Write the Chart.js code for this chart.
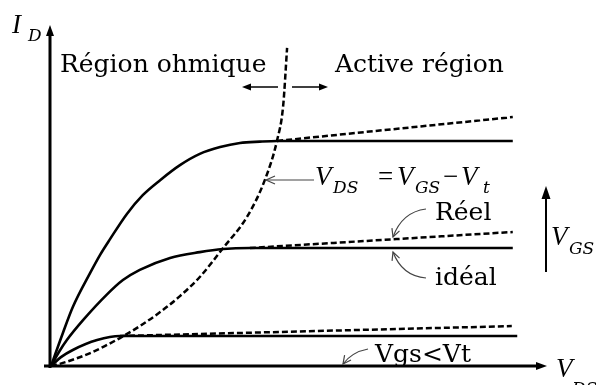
<!DOCTYPE html>
<html>
<head>
<meta charset="utf-8">
<script src="https://cdn.jsdelivr.net/npm/chart.js@4.4.0/dist/chart.umd.min.js"></script>
<style>
  html, body { margin: 0; padding: 0; background: #fff; }
  #wrap { position: relative; width: 596px; height: 385px; }
</style>
</head>
<body>
<div id="wrap"><canvas id="chart"></canvas></div>
<script>
// MOSFET output characteristics — I_D vs V_DS (schematic)
// Chart.js 4.x, curves drawn as scatter lines

// --- Data (arbitrary units, V_DS 0..10, I_D 0..10) ---
const curveHigh = [[0, 0], [0.24, 0.97], [0.44, 1.73], [0.79, 2.73], [0.99, 3.26], [1.19, 3.72],
    [1.53, 4.46], [1.85, 5.01], [2.20, 5.45], [2.60, 5.89], [3.00, 6.22], [3.41, 6.42],
    [3.81, 6.54], [4.21, 6.58], [4.56, 6.60], [9.31, 6.60]];
const curveMid = [[0, 0], [0.16, 0.41], [0.32, 0.76], [0.65, 1.35], [1.13, 2.10], [1.45, 2.52],
    [1.79, 2.82], [2.40, 3.17], [3.00, 3.34], [3.47, 3.43], [4.01, 3.46], [9.31, 3.46]];
const curveLow = [[0, 0], [0.20, 0.26], [0.44, 0.47], [0.93, 0.76], [1.39, 0.88], [9.40, 0.88]];

// real (channel-length modulation) lines
const realHigh = [[4.56, 6.60], [9.31, 7.30]];
const realMid = [[4.01, 3.46], [9.31, 3.93]];
const realLow = [[1.39, 0.88], [9.29, 1.17]];

// boundary V_DS = V_GS - V_t
const boundary = [[0, 0], [0.24, 0.09], [0.79, 0.38], [1.39, 0.82], [1.79, 1.17], [2.20, 1.58],
    [2.60, 2.05], [3.00, 2.61], [3.47, 3.46], [3.95, 4.37], [4.31, 5.45], [4.56, 6.63],
    [4.68, 7.62], [4.76, 9.33]];

const toXY = arr => arr.map(p => ({ x: p[0], y: p[1] }));

function solid(arr) {
    return {
        data: toXY(arr), showLine: true, borderColor: '#000', borderWidth: 2.6,
        pointRadius: 0, cubicInterpolationMode: 'monotone', order: 2
    };
}
function dashed(arr) {
    return {
        data: toXY(arr), showLine: true, borderColor: '#000', borderWidth: 2.5,
        borderDash: [6, 3], pointRadius: 0, cubicInterpolationMode: 'monotone', order: 1
    };
}

// --- drawing helpers ---
function arrowHead(ctx, x, y, angle, len, half) {
    ctx.beginPath();
    ctx.moveTo(x, y);
    ctx.lineTo(x - len * Math.cos(angle) + half * Math.sin(angle), y - len * Math.sin(angle) - half * Math.cos(angle));
    ctx.lineTo(x - len * Math.cos(angle) - half * Math.sin(angle), y - len * Math.sin(angle) + half * Math.cos(angle));
    ctx.closePath();
    ctx.fill();
}
function openHead(ctx, x, y, angle, len, half) {
    ctx.beginPath();
    ctx.moveTo(x - len * Math.cos(angle) + half * Math.sin(angle), y - len * Math.sin(angle) - half * Math.cos(angle));
    ctx.lineTo(x, y);
    ctx.lineTo(x - len * Math.cos(angle) - half * Math.sin(angle), y - len * Math.sin(angle) + half * Math.cos(angle));
    ctx.stroke();
}
function curvedArrow(ctx, x0, y0, cx, cy, x1, y1) {
    ctx.beginPath();
    ctx.moveTo(x0, y0);
    ctx.quadraticCurveTo(cx, cy, x1, y1);
    ctx.stroke();
    openHead(ctx, x1, y1, Math.atan2(y1 - cy, x1 - cx), 8, 4);
}
function subText(ctx, x, y, main, sub, subX, subY) {
    ctx.font = 'italic 27px "Liberation Serif"';
    ctx.fillText(main, x, y);
    ctx.font = 'italic 17px "DejaVu Serif"';
    ctx.fillText(sub, subX, subY);
}

// --- axes with arrows ---
const axesPlugin = {
    id: 'axes',
    beforeDatasetsDraw(chart) {
        const ctx = chart.ctx;
        const xs = chart.scales.x, ys = chart.scales.y;
        const ox = xs.getPixelForValue(0) - 1;
        const oy = ys.getPixelForValue(0);
        const top = ys.getPixelForValue(10);
        const right = xs.getPixelForValue(10);
        ctx.save();
        ctx.strokeStyle = '#000';
        ctx.fillStyle = '#000';
        ctx.lineWidth = 3;
        ctx.beginPath();
        ctx.moveTo(ox, oy + 2);
        ctx.lineTo(ox, top + 8);
        ctx.moveTo(ox - 6, oy);
        ctx.lineTo(right - 8, oy);
        ctx.stroke();
        arrowHead(ctx, ox, top, -Math.PI / 2, 11, 4);
        arrowHead(ctx, right, oy, 0, 11, 4);
        ctx.restore();
    }
};

// --- labels and annotation arrows ---
const labelsPlugin = {
    id: 'labels',
    afterDraw(chart) {
        const ctx = chart.ctx;
        ctx.save();
        ctx.fillStyle = '#000';
        ctx.textAlign = 'left';
        ctx.textBaseline = 'alphabetic';

        ctx.font = '25px "DejaVu Serif"';
        ctx.fillText('Région ohmique', 60, 72);
        ctx.fillText('Active région', 335, 72);
        ctx.fillText('Réel', 435, 220);
        ctx.fillText('idéal', 435, 285);
        ctx.fillText('Vgs<Vt', 375, 362);

        // axis titles
        subText(ctx, 12, 33, 'I', 'D', 28, 41);
        subText(ctx, 556, 377, 'V', 'DS', 572, 394);
        subText(ctx, 551, 245, 'V', 'GS', 569, 254);

        // V_DS = V_GS - V_t
        subText(ctx, 315, 185, 'V', 'DS', 333, 193);
        ctx.font = '27px "Liberation Serif"';
        ctx.fillText('=', 378, 185);
        subText(ctx, 397, 185, 'V', 'GS', 415, 193);
        ctx.font = '27px "Liberation Serif"';
        ctx.fillText('\u2212', 443, 185);
        subText(ctx, 461, 185, 'V', 't', 483, 193);

        // region arrows
        ctx.strokeStyle = '#000';
        ctx.lineWidth = 1.5;
        ctx.beginPath();
        ctx.moveTo(278, 87); ctx.lineTo(248, 87);
        ctx.moveTo(292, 87); ctx.lineTo(322, 87);
        ctx.stroke();
        arrowHead(ctx, 242, 87, Math.PI, 9, 3.5);
        arrowHead(ctx, 328, 87, 0, 9, 3.5);

        // V_GS increasing arrow
        ctx.lineWidth = 2;
        ctx.beginPath();
        ctx.moveTo(546, 272); ctx.lineTo(546, 196);
        ctx.stroke();
        arrowHead(ctx, 546, 186, -Math.PI / 2, 13, 4.5);

        // thin pointer arrows
        ctx.strokeStyle = '#444';
        ctx.lineWidth = 1.2;
        ctx.beginPath();
        ctx.moveTo(314, 180); ctx.lineTo(266, 180);
        ctx.stroke();
        openHead(ctx, 266, 180, Math.PI, 9, 4);

        curvedArrow(ctx, 426, 209, 402, 212, 393, 237);
        curvedArrow(ctx, 426, 278, 402, 276, 393, 252);
        curvedArrow(ctx, 368, 349, 352, 352, 343, 364);

        ctx.restore();
    }
};

const ctx = document.getElementById('chart').getContext('2d');
new Chart(ctx, {
    type: 'scatter',
    data: {
        datasets: [
            solid(curveHigh), solid(curveMid), solid(curveLow),
            dashed(realHigh), dashed(realMid), dashed(realLow),
            dashed(boundary)
        ]
    },
    options: {
        responsive: true,
        maintainAspectRatio: false,
        animation: false,
        layout: { padding: { left: 51, right: 49, top: 25, bottom: 19 } },
        plugins: { legend: { display: false }, tooltip: { enabled: false } },
        scales: {
            x: { type: 'linear', display: false, min: 0, max: 10 },
            y: { type: 'linear', display: false, min: 0, max: 10 }
        }
    },
    plugins: [axesPlugin, labelsPlugin]
});
</script>
</body>
</html>
